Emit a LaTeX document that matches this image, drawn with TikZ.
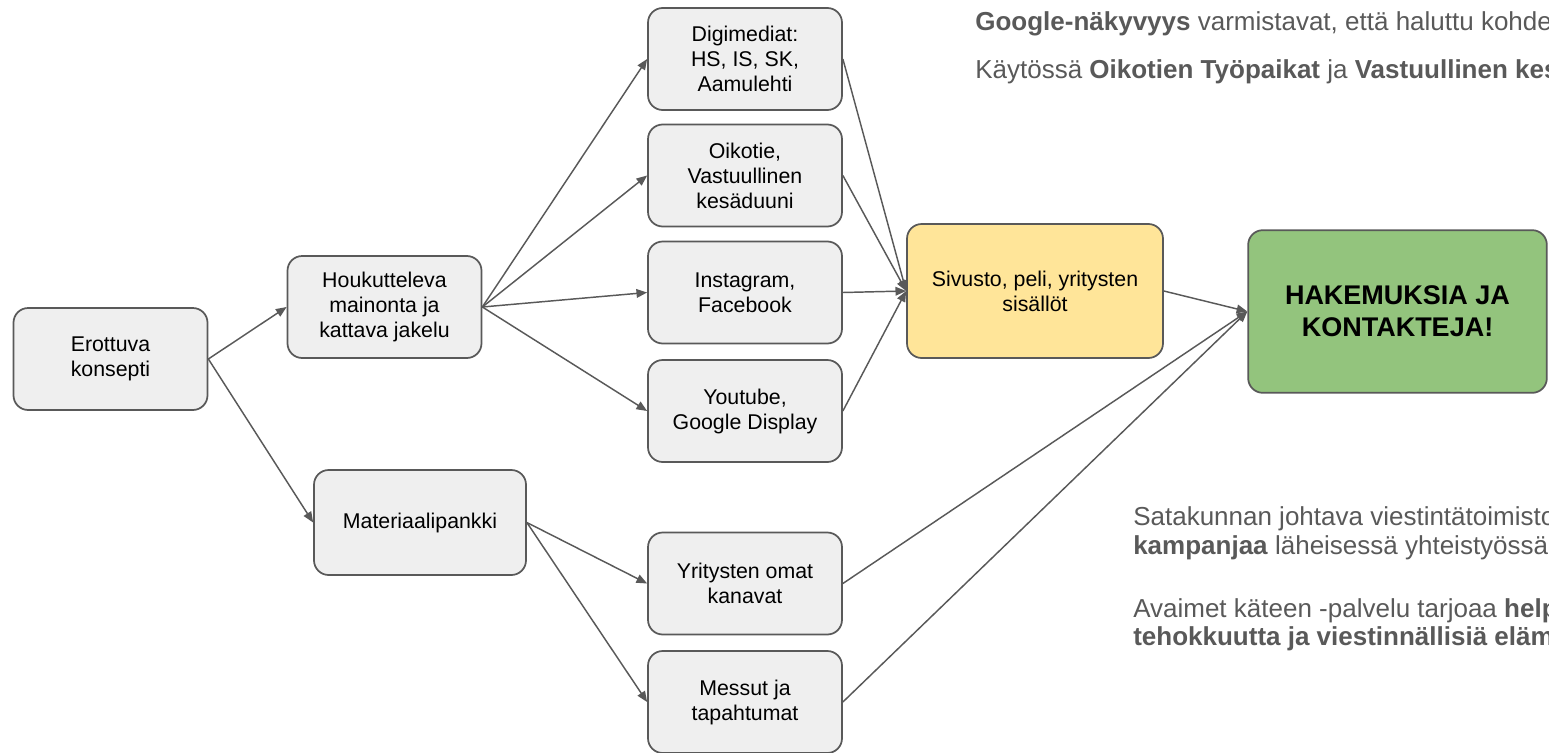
\documentclass[tikz,border=0pt]{standalone}
\usepackage{fontspec}
\setmainfont{Liberation Sans}
\usetikzlibrary{arrows.meta}

\definecolor{boxgray}{HTML}{EFEFEF}
\definecolor{linegray}{HTML}{595959}
\definecolor{sivuyellow}{HTML}{FFE599}
\definecolor{hakugreen}{HTML}{93C47D}

\tikzset{
    box/.style={draw=linegray, line width=1.3pt, fill=boxgray, rounded corners=11pt,
        align=center, minimum width=145.5pt, minimum height=76.5pt, inner sep=2pt,
        font=\fontsize{16}{18.75}\selectfont},
    flow/.style={draw=linegray, line width=1.1pt, -{Triangle[length=8pt,width=6.5pt]}},
    note/.style={anchor=base west, text=linegray, inner sep=0pt,
        font=\fontsize{19.5}{21.75}\selectfont}
}

\begin{document}
\begin{tikzpicture}[x=0.75pt, y=-0.75pt]
    \useasboundingbox (0,0) rectangle (1549,753);
    \clip (0,0) rectangle (1549,753);

    
    \node[box] (erottuva) at (110.5,359) {Erottuva\\konsepti};
    \node[box] (houkutteleva) at (384.5,307) {Houkutteleva\\mainonta ja\\kattava jakelu};
    \node[box, minimum width=159pt, minimum height=78.75pt] (materiaali) at (420,522.5) {Materiaalipankki};

    
    \node[box] (digi) at (745,59) {Digimediat:\\HS, IS, SK,\\Aamulehti};
    \node[box] (oikotie) at (745,175.5) {Oikotie,\\Vastuullinen\\kesäduuni};
    \node[box] (insta) at (745,292.5) {Instagram,\\Facebook};
    \node[box] (youtube) at (745,411) {Youtube,\\Google Display};
    \node[box] (omat) at (745,583.5) {Yritysten omat\\kanavat};
    \node[box] (messut) at (745,702) {Messut ja\\tapahtumat};

    
    \node[box, fill=sivuyellow, minimum width=192pt, minimum height=100.5pt] (sivusto) at (1035,291) {Sivusto, peli, yritysten\\sisällöt};
    \node[box, fill=hakugreen, minimum width=224pt, minimum height=122pt,
        font=\fontsize{20.25}{24}\selectfont\bfseries] (hakemus) at (1397.5,311.5) {HAKEMUKSIA JA\\KONTAKTEJA!};

    
    \draw[flow] (erottuva.east) -- (houkutteleva.west);
    \draw[flow] (erottuva.east) -- (materiaali.west);
    \foreach \t in {digi,oikotie,insta,youtube}
        \draw[flow] (houkutteleva.east) -- (\t.west);
    \foreach \t in {omat,messut}
        \draw[flow] (materiaali.east) -- (\t.west);
    \foreach \s in {digi,oikotie,insta,youtube}
        \draw[flow] (\s.east) -- (sivusto.west);
    \foreach \s in {sivusto,omat,messut}
        \draw[flow] (\s.east) -- (hakemus.west);

    
    \node[note] (google) at (975,30) {\textbf{Google-näkyvyys} varmistavat, että haluttu kohderyhmä};
    \node[note] (kaytossa) at (975,78) {Käytössä \textbf{Oikotien Työpaikat} ja \textbf{Vastuullinen kesäduuni}};
    \node[note] (satakunta) at (1133,525) {Satakunnan johtava viestintätoimisto};
    \node[note] (kampanja) at (1133,554) {\textbf{kampanjaa} läheisessä yhteistyössä};
    \node[note] (avaimet) at (1133,617) {Avaimet käteen -palvelu tarjoaa \textbf{helppoutta,}};
    \node[note] (elamys) at (1133,645) {\textbf{tehokkuutta ja viestinnällisiä elämyksiä}};
\end{tikzpicture}
\end{document}
